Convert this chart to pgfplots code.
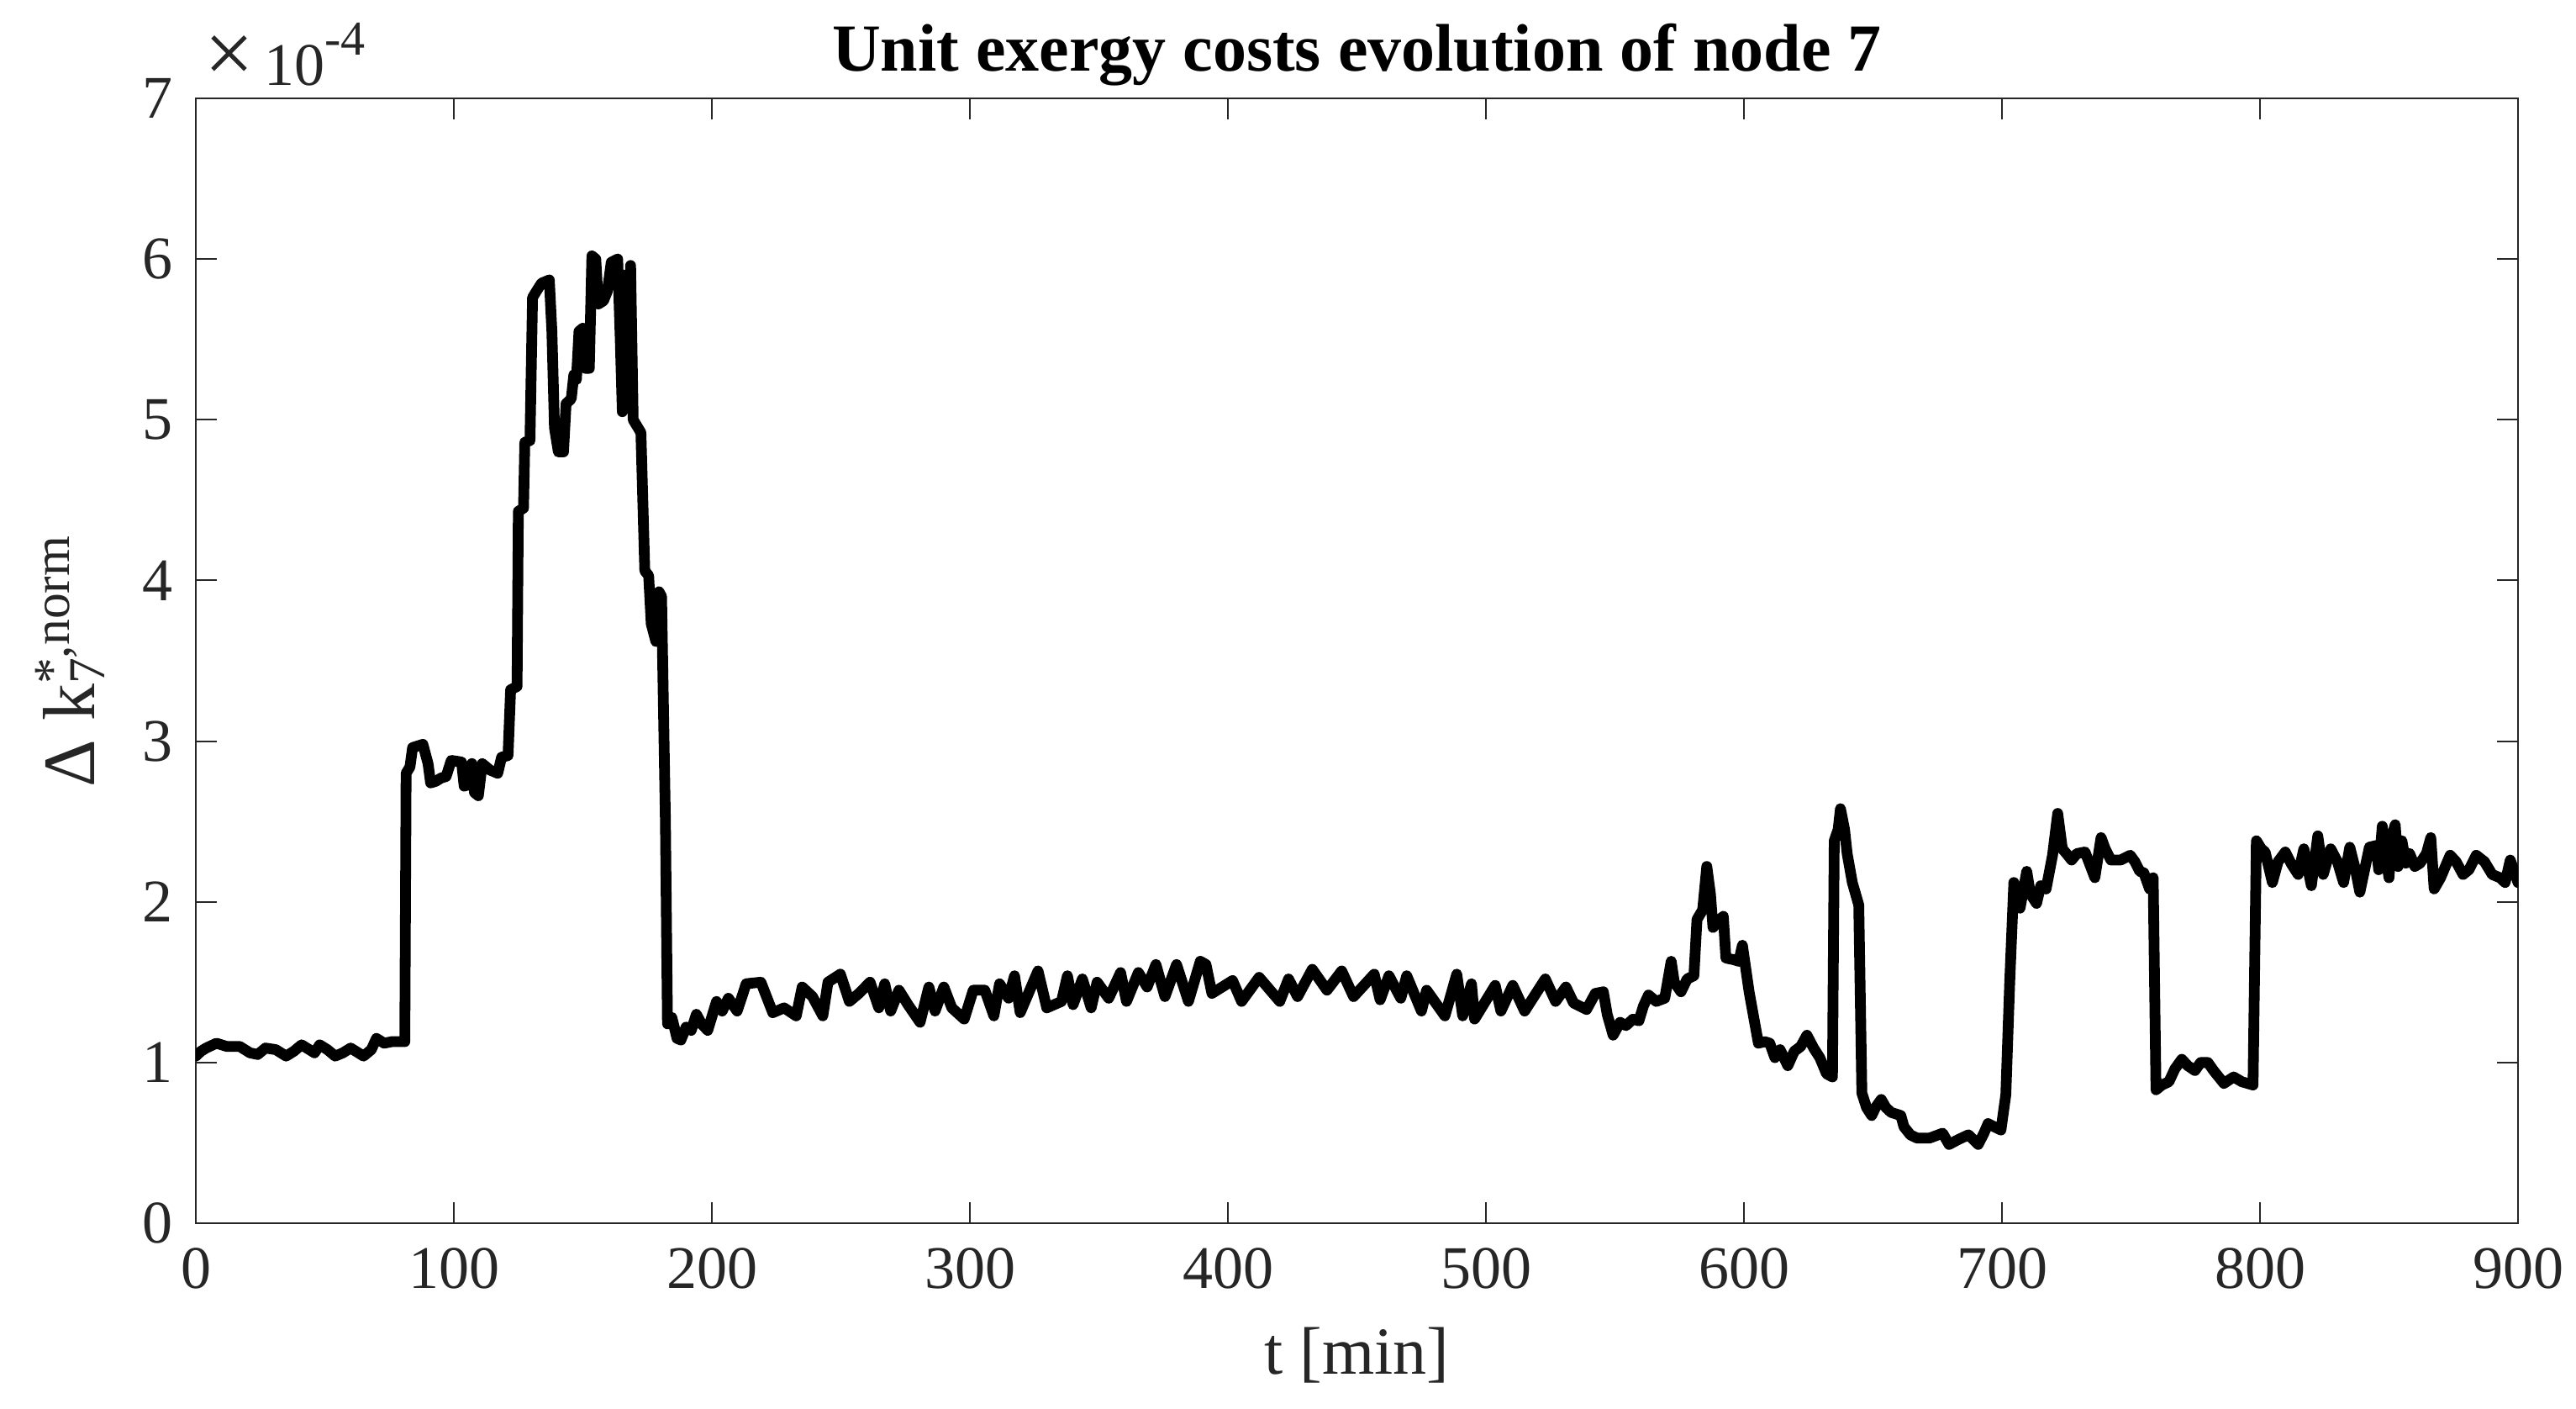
\documentclass[border=0pt]{standalone}
\usepackage{fontspec}
\setmainfont{Liberation Serif}
\usepackage{pgfplots}
\pgfplotsset{compat=1.18}
\usetikzlibrary{calc}
\newcommand\tk{\fontsize{18}{21.6}\selectfont}
\newcommand\lb{\fontsize{20}{24}\selectfont}
\newcommand\lby{\fontsize{22}{26}\selectfont}
\begin{document}
\begin{tikzpicture}
\begin{axis}[
 width=690.75pt, height=334.5pt, scale only axis,
 xmin=0, xmax=900, ymin=0, ymax=7,
 xtick={0,100,...,900}, ytick={0,1,...,7},
 tick align=inside, xtick pos=both, ytick pos=both,
 major tick length=6.3pt,
 axis line style={color=black!85, line width=0.5pt},
 every tick/.style={color=black!85, line width=0.5pt},
 /pgf/number format/assume math mode=true,
 ticklabel style={font=\tk, text=black!85},
 xticklabel style={anchor=base, yshift=-19.5pt, inner sep=0pt},
 yticklabel style={anchor=east, xshift=-6.75pt, inner sep=0pt},
 scaled y ticks=false,
 title={\textbf{Unit exergy costs evolution of node 7}},
 title style={at={(axis description cs:0.5,1)}, anchor=base, yshift=2pt, font=\lb, inner sep=0pt},
 xlabel={t [min]},
 xlabel style={at={(axis description cs:0.5,-0.1345)}, anchor=base, font=\lb, inner sep=0pt, text=black!85},
 ylabel={Δ k\rlap{\textsubscript{7}}\textsuperscript{*,norm}},
 ylabel style={at={(axis description cs:-0.0437,0.5)}, anchor=base, font=\lby, inner sep=0pt, text=black!85},
]
\addplot[black, line width=3.2pt, line join=round, line cap=round] coordinates {
(0,1.04) (2,1.07) (4,1.09) (8,1.12) (12,1.10) (17,1.10) (21,1.06) (24,1.05) (27,1.09) (31,1.08)
(35,1.04) (38,1.07) (41,1.11) (44,1.08) (46,1.06) (48,1.11) (51,1.08) (54,1.04) (57,1.06) (60,1.09)
(63,1.06) (65,1.04) (68,1.08) (70,1.15) (73,1.12) (76,1.13) (80,1.13) (81,1.13)
(81.5,2.80) (83,2.84) (84,2.96) (86,2.97) (88,2.98) (90,2.86) (91,2.74) (93,2.75) (95,2.77) (97,2.78)
(99,2.88) (103,2.87) (104,2.72) (106,2.73) (107,2.86) (108,2.68) (109.5,2.66) (111,2.86) (114,2.82)
(117,2.80) (118.5,2.90) (121,2.91) (122,3.32) (124.5,3.34) (125,4.43) (127,4.45) (127.5,4.86) (129.5,4.87)
(130.5,5.76) (132,5.80) (134,5.85) (137,5.87) (138,5.55) (139,4.95) (140.5,4.80) (142.5,4.80)
(143.5,5.10) (145.5,5.13) (146.5,5.28) (147.5,5.25) (148.5,5.55) (150,5.57) (151,5.32) (152.5,5.32)
(153.5,6.02) (155,6.00) (156,5.72) (158,5.74) (159.5,5.80) (161,5.98) (163.5,6.00) (164.5,5.50)
(165.3,5.05) (166,5.90) (167.2,5.10) (168.5,5.96) (169.5,5.00) (172.5,4.92) (174,4.06) (175.5,4.03)
(176.5,3.73) (178.3,3.62) (179.5,3.93) (180.5,3.90) (182,2.50) (182.8,1.24) (184.5,1.28) (186.5,1.15)
(188,1.14) (190,1.22) (192,1.20) (194,1.30) (196,1.24) (198.4,1.20) (201.8,1.38) (204,1.32) (206.4,1.40)
(209.8,1.32) (213.3,1.49) (219,1.50) (223.6,1.31) (228,1.34) (232.7,1.29) (235,1.47) (239,1.41)
(243,1.29) (245,1.50) (249.8,1.55) (253.3,1.38) (257,1.43) (261.3,1.50) (264.7,1.34) (267,1.49)
(269.3,1.32) (272.5,1.45) (276,1.36) (280.7,1.25) (284.1,1.47) (286.5,1.32) (289.9,1.47) (293,1.34)
(297.8,1.27) (301.3,1.45) (305.8,1.45) (309.3,1.29) (311.5,1.49) (315,1.40) (317.3,1.54) (319.5,1.31)
(326.4,1.57) (329.8,1.34) (335.5,1.38) (337.8,1.54) (340,1.36) (343.6,1.52) (347,1.34) (349.3,1.50)
(353.8,1.40) (358.4,1.56) (360.7,1.38) (365.3,1.56) (368.7,1.47) (372.1,1.61) (375.6,1.41) (380.1,1.61)
(384.7,1.38) (389.3,1.63) (391.5,1.61) (393.8,1.43) (401.8,1.51) (405.3,1.38) (412.1,1.53) (420.1,1.38)
(423.5,1.52) (427,1.41) (432.7,1.58) (438.4,1.45) (444.1,1.57) (448.7,1.41) (456.7,1.55) (459,1.39)
(462.4,1.54) (467,1.40) (469.3,1.54) (475,1.32) (477,1.45) (484.1,1.29) (488.7,1.55) (491,1.29)
(494.4,1.49) (495.6,1.27) (503.6,1.48) (505.8,1.32) (510.4,1.48) (515,1.32) (523,1.52) (527,1.38)
(531,1.47) (534,1.37) (539,1.33) (542.4,1.43) (545.5,1.44) (547,1.30) (549.3,1.17) (552,1.25)
(554.3,1.23) (557,1.27) (559.3,1.26) (561,1.35) (563,1.42) (566,1.38) (569.3,1.40) (571.8,1.63)
(573,1.50) (575.6,1.44) (578,1.52) (580.6,1.54) (581.8,1.89) (584,1.95) (585.6,2.22) (587,2.05)
(588,1.84) (590,1.88) (592,1.91) (593,1.65) (596,1.64) (598,1.63) (599.4,1.73) (602,1.44) (605.6,1.12)
(608,1.13) (610,1.12) (612,1.03) (614,1.08) (617,0.98) (619.5,1.07) (622,1.10) (624.4,1.17) (627,1.09)
(629.4,1.03) (632,0.93) (634.3,0.91) (635,2.38) (636.5,2.45) (637.4,2.58) (639,2.45) (640,2.30)
(642,2.12) (644.5,1.98) (645.7,0.81) (647.5,0.72) (649.5,0.67) (651,0.72) (653.2,0.77) (655,0.72)
(657,0.69) (660.8,0.67) (662,0.60) (664.5,0.55) (667,0.53) (672,0.53) (677,0.56) (679.5,0.49)
(683,0.52) (687,0.55) (690.8,0.49) (693,0.56) (694.6,0.62) (697,0.60) (699.6,0.58) (701.5,0.80)
(703,1.50) (704.6,2.12) (706,2.00) (707,1.96) (709.6,2.19) (711,2.05) (713.4,1.99) (715,2.10)
(717.1,2.08) (719.6,2.29) (721.6,2.55) (723.4,2.33) (725,2.30) (727,2.26) (729,2.30) (732.2,2.31)
(736,2.15) (738.4,2.40) (740,2.33) (742.2,2.26) (746,2.26) (749.7,2.29) (751.5,2.25) (753.4,2.19)
(755,2.18) (757.2,2.08) (758.6,2.15) (759.7,0.83) (762,0.86) (764.7,0.88) (767,0.96) (769.7,1.02)
(772,0.98) (774.8,0.95) (777,1.00) (779.8,1.00) (782,0.95) (786,0.87) (789.8,0.91) (793,0.88)
(797.3,0.86) (798.6,2.38) (800.5,2.33) (802,2.31) (804.8,2.12) (807,2.25) (809.8,2.31) (812,2.24)
(814.8,2.17) (817,2.33) (819.9,2.10) (822.4,2.41) (824.5,2.17) (827.4,2.33) (830,2.25) (832.4,2.12)
(834.8,2.34) (837,2.20) (838.7,2.06) (842.4,2.34) (845,2.35) (846,2.20) (847.4,2.47) (849,2.25)
(850,2.15) (851,2.40) (852.4,2.48) (853.5,2.22) (855,2.38) (856.5,2.24) (858,2.30) (860,2.22)
(862,2.24) (864.5,2.30) (866.2,2.40) (867.5,2.08) (870,2.15) (873.7,2.29) (876,2.25) (878.7,2.17)
(881,2.20) (883.8,2.29) (887,2.25) (890,2.17) (893,2.15) (895,2.12) (897,2.26) (900,2.12)
};
\coordinate (bl) at (rel axis cs:0,0);
\coordinate (tr) at (rel axis cs:1,1);
\end{axis}
\node[anchor=base west, inner sep=0pt, font=\tk, text=black!85] at ($(bl |- tr)+(2.5pt,3.75pt)$)
 {\raisebox{0.05em}{\scalebox{1.45}{×}}\,10\raisebox{0.5em}{\fontsize{14.5}{16}\selectfont -4}};
\pgfresetboundingbox
\path ($(bl)+(-58.25pt,-55.25pt)$) rectangle ($(tr)+(17.25pt,29.25pt)$);
\end{tikzpicture}
\end{document}
